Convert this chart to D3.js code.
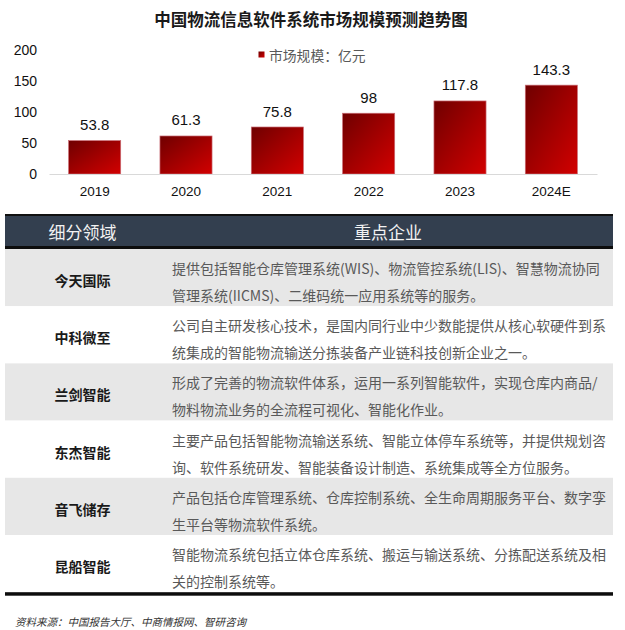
<!DOCTYPE html>
<html>
<head>
<meta charset="utf-8">
<script src="https://cdn.jsdelivr.net/npm/d3@7"></script>
<style>
  html, body { margin: 0; padding: 0; background: #fff; }
  svg { display: block; }
</style>
</head>
<body>
<div id="chart"></div>
<script>
// ---------- data ----------
const chartTitle = "中国物流信息软件系统市场规模预测趋势图";
const legendLabel = "市场规模：亿元";
const years = ["2019", "2020", "2021", "2022", "2023", "2024E"];
const values = [53.8, 61.3, 75.8, 98, 117.8, 143.3];
const yTicks = [0, 50, 100, 150, 200];

const tableHeaders = ["细分领域", "重点企业"];
const companies = ["今天国际", "中科微至", "兰剑智能", "东杰智能", "音飞储存", "昆船智能"];
const descLine1 = [
  "提供包括智能仓库管理系统(WIS)、物流管控系统(LIS)、智慧物流协同",
  "公司自主研发核心技术，是国内同行业中少数能提供从核心软硬件到系",
  "形成了完善的物流软件体系，运用一系列智能软件，实现仓库内商品/",
  "主要产品包括智能物流输送系统、智能立体停车系统等，并提供规划咨",
  "产品包括仓库管理系统、仓库控制系统、全生命周期服务平台、数字孪",
  "智能物流系统包括立体仓库系统、搬运与输送系统、分拣配送系统及相"
];
const descLine2 = [
  "管理系统(IICMS)、二维码统一应用系统等的服务。",
  "统集成的智能物流输送分拣装备产业链科技创新企业之一。",
  "物料物流业务的全流程可视化、智能化作业。",
  "询、软件系统研发、智能装备设计制造、系统集成等全方位服务。",
  "生平台等物流软件系统。",
  "关的控制系统等。"
];
const sourceText = "资料来源：中国报告大厅、中商情报网、智研咨询";

// ---------- layout ----------
const W = 625, H = 630;
const cjk = "'Noto Sans CJK SC', 'Noto Sans', sans-serif";
const latin = "'Liberation Sans', Arial, 'Noto Sans CJK SC', sans-serif";

const svg = d3.select("#chart").append("svg")
  .attr("width", W).attr("height", H);

const defs = svg.append("defs");
const grad = defs.append("linearGradient")
  .attr("id", "barGrad")
  .attr("x1", "0").attr("y1", "0").attr("x2", "1").attr("y2", "1");
grad.append("stop").attr("offset", "0%").attr("stop-color", "#6f0000");
grad.append("stop").attr("offset", "55%").attr("stop-color", "#a60000");
grad.append("stop").attr("offset", "100%").attr("stop-color", "#d20000");

// title
svg.append("text")
  .attr("x", 311).attr("y", 26)
  .attr("text-anchor", "middle")
  .style("font-family", cjk)
  .style("font-size", "16.5px")
  .style("font-weight", "bold")
  .style("fill", "#1a1a1a")
  .text(chartTitle);

// legend
const lg = svg.append("g");
lg.append("rect")
  .attr("x", 258.5).attr("y", 51.5).attr("width", 6).attr("height", 6)
  .attr("fill", "url(#barGrad)");
lg.append("text")
  .attr("x", 269).attr("y", 54.7)
  .attr("dominant-baseline", "central")
  .style("font-family", cjk)
  .style("font-size", "13.8px")
  .style("fill", "#595959")
  .text(legendLabel);

// scales
const x = d3.scaleBand()
  .domain(years)
  .range([49, 597])
  .paddingInner(0.43)
  .paddingOuter(0.215);

const y = d3.scaleLinear()
  .domain([0, 200])
  .range([174, 50]);

// y axis
const yAxis = svg.append("g")
  .attr("transform", "translate(49,0)")
  .call(d3.axisLeft(y).tickValues(yTicks).tickSize(0).tickPadding(12));
yAxis.select(".domain").remove();
yAxis.selectAll("text")
  .style("font-family", latin)
  .style("font-size", "14px")
  .style("fill", "#111");

// bars
svg.append("g").selectAll("rect")
  .data(values)
  .join("rect")
  .attr("x", (d, i) => x(years[i]))
  .attr("y", d => y(d))
  .attr("width", x.bandwidth())
  .attr("height", d => y(0) - y(d))
  .attr("fill", "url(#barGrad)")
  .attr("stroke", "#c86a72")
  .attr("stroke-width", 0.7);

// value labels
svg.append("g").selectAll("text")
  .data(values)
  .join("text")
  .attr("x", (d, i) => x(years[i]) + x.bandwidth() / 2)
  .attr("y", d => y(d) - 10.5)
  .attr("text-anchor", "middle")
  .style("font-family", latin)
  .style("font-size", "15px")
  .style("fill", "#111")
  .text(d => d);

// x axis
const xAxis = svg.append("g")
  .attr("transform", "translate(0,174)")
  .call(d3.axisBottom(x).tickSize(0).tickSizeOuter(0).tickPadding(12.5));
xAxis.select(".domain").attr("stroke", "#d9d9d9").attr("stroke-width", 1);
xAxis.selectAll("text")
  .style("font-family", latin)
  .style("font-size", "13.5px")
  .style("fill", "#111");

// ---------- table ----------
const tX0 = 5, tX1 = 613;
const table = svg.append("g");

// header
table.append("rect").attr("x", tX0).attr("y", 214).attr("width", tX1 - tX0).attr("height", 2).attr("fill", "#111");
table.append("rect").attr("x", tX0).attr("y", 216).attr("width", tX1 - tX0).attr("height", 30).attr("fill", "#333f4f");
table.append("rect").attr("x", tX0).attr("y", 246).attr("width", tX1 - tX0).attr("height", 3).attr("fill", "#0d0d0d");

const colCenters = [82.5, 388];
table.selectAll("text.hdr")
  .data(tableHeaders)
  .join("text")
  .attr("class", "hdr")
  .attr("x", (d, i) => colCenters[i])
  .attr("y", 231.5)
  .attr("text-anchor", "middle")
  .attr("dominant-baseline", "central")
  .style("font-family", cjk)
  .style("font-size", "17px")
  .style("fill", "#f2f2f2")
  .text(d => d);

const rowTop = 249, rowH = 57.2;
const rows = d3.range(companies.length);

table.selectAll("rect.row")
  .data(rows)
  .join("rect")
  .attr("class", "row")
  .attr("x", tX0)
  .attr("y", i => rowTop + i * rowH)
  .attr("width", tX1 - tX0)
  .attr("height", rowH)
  .attr("fill", i => i % 2 === 0 ? "#e7e7e7" : "#ffffff");

table.selectAll("text.name")
  .data(companies)
  .join("text")
  .attr("class", "name")
  .attr("x", colCenters[0])
  .attr("y", (d, i) => rowTop + i * rowH + 31)
  .attr("text-anchor", "middle")
  .attr("dominant-baseline", "central")
  .style("font-family", cjk)
  .style("font-size", "14px")
  .style("font-weight", "bold")
  .style("fill", "#1a1a1a")
  .text(d => d);

table.selectAll("text.d1")
  .data(descLine1)
  .join("text")
  .attr("class", "d1")
  .attr("x", 172)
  .attr("y", (d, i) => rowTop + i * rowH + 19)
  .attr("dominant-baseline", "central")
  .style("font-family", cjk)
  .style("font-size", "14px")
  .style("fill", "#595959")
  .text(d => d);

table.selectAll("text.d2")
  .data(descLine2)
  .join("text")
  .attr("class", "d2")
  .attr("x", 172)
  .attr("y", (d, i) => rowTop + i * rowH + 46)
  .attr("dominant-baseline", "central")
  .style("font-family", cjk)
  .style("font-size", "14px")
  .style("fill", "#595959")
  .text(d => d);

// bottom rule
table.append("rect")
  .attr("x", tX0).attr("y", rowTop + companies.length * rowH)
  .attr("width", tX1 - tX0).attr("height", 3.5)
  .attr("fill", "#0d0d0d");

// source
svg.append("text")
  .attr("x", 15).attr("y", 621)
  .attr("dominant-baseline", "central")
  .style("font-family", cjk)
  .style("font-size", "10.5px")
  .style("font-style", "italic")
  .style("fill", "#333")
  .text(sourceText);
</script>
</body>
</html>
